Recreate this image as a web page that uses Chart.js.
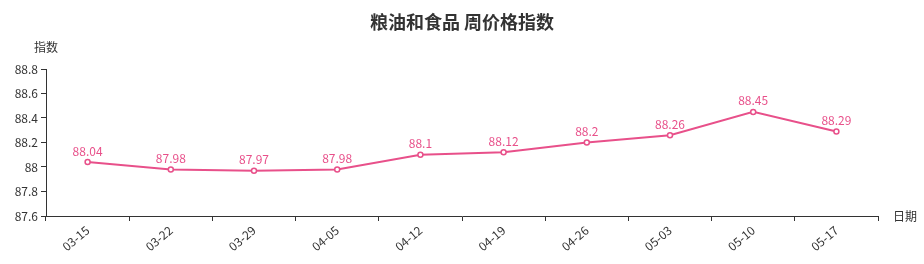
<!DOCTYPE html>
<html>
<head>
<meta charset="utf-8">
<script src="https://cdn.jsdelivr.net/npm/chart.js@4"></script>
<style>
  html, body { margin: 0; padding: 0; background: #fff; }
  #wrap { width: 924px; height: 264px; position: relative; }
</style>
</head>
<body>
<div id="wrap"><canvas id="weekChart" width="924" height="264"></canvas></div>
<script>
// 数据
const dates = ['03-15', '03-22', '03-29', '04-05', '04-12', '04-19', '04-26', '05-03', '05-10', '05-17'];
const indexValues = [88.04, 87.98, 87.97, 87.98, 88.1, 88.12, 88.2, 88.26, 88.45, 88.29];
const yTicks = [87.6, 87.8, 88, 88.2, 88.4, 88.6, 88.8];

const pink = '#e8508a';
const fontFamily = '"Microsoft YaHei", "Noto Sans CJK SC", sans-serif';

// 数值标签 + 标题 + 轴名
const extraText = {
  id: 'extraText',
  afterDatasetsDraw(chart) {
    const ctx = chart.ctx;
    const meta = chart.getDatasetMeta(0);
    ctx.save();
    ctx.fillStyle = pink;
    ctx.font = '12px ' + fontFamily;
    ctx.textAlign = 'center';
    ctx.textBaseline = 'bottom';
    meta.data.forEach((pt, i) => {
      ctx.fillText(String(indexValues[i]), pt.x, pt.y - 5);
    });
    ctx.restore();
  },
  afterDraw(chart) {
    const ctx = chart.ctx;
    const area = chart.chartArea;
    ctx.save();
    ctx.fillStyle = '#333';
    ctx.textBaseline = 'middle';
    ctx.textAlign = 'center';
    ctx.font = 'bold 18px ' + fontFamily;
    ctx.fillText('粮油和食品 周价格指数', chart.width / 2, 22);
    ctx.font = '12px ' + fontFamily;
    ctx.fillText('指数', area.left, 47);
    ctx.textAlign = 'left';
    ctx.fillText('日期', area.right + 15, area.bottom);
    ctx.restore();
  }
};

const canvas = document.getElementById('weekChart');
if (canvas) {
  new Chart(canvas.getContext('2d'), {
    type: 'line',
    data: {
      labels: dates,
      datasets: [{
        data: indexValues,
        borderColor: pink,
        borderWidth: 2,
        pointRadius: 2.5,
        pointBorderWidth: 1.5,
        pointBackgroundColor: '#fff',
        pointBorderColor: pink,
        tension: 0
      }]
    },
    options: {
      responsive: false,
      animation: false,
      layout: { padding: { top: 69, right: 46, left: 0, bottom: 0 } },
      plugins: {
        legend: { display: false },
        title: { display: false },
        tooltip: { enabled: false }
      },
      scales: {
        x: {
          offset: true,
          grid: { offset: true, drawOnChartArea: false, color: '#333', tickLength: 5 },
          border: { color: '#333', width: 1 },
          ticks: {
            color: '#333',
            font: { size: 12, family: fontFamily },
            minRotation: 40,
            maxRotation: 40,
            padding: 2,
            autoSkip: false
          },
          afterFit(scale) { scale.height = 48; }
        },
        y: {
          min: 87.6,
          max: 88.8,
          afterBuildTicks(scale) { scale.ticks = yTicks.map(v => ({ value: v })); },
          grid: { drawOnChartArea: false, color: '#333', tickLength: 5 },
          border: { color: '#333', width: 1 },
          ticks: {
            color: '#333',
            font: { size: 12, family: fontFamily },
            padding: 3,
            callback: v => String(+Number(v).toFixed(1))
          },
          afterFit(scale) { scale.width = 46; }
        }
      }
    },
    plugins: [extraText]
  });
}
</script>
</body>
</html>
